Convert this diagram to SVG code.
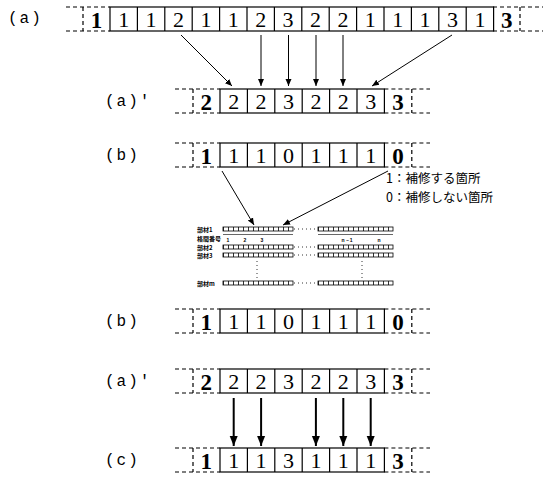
<svg xmlns="http://www.w3.org/2000/svg" width="548" height="485" viewBox="0 0 548 485">
<style>
.bg{fill:#fff}
.cell{fill:none;stroke:#000;stroke-width:1.2}
.dash{fill:none;stroke:#000;stroke-width:1.2;stroke-dasharray:4 3}
.d{font-family:"Liberation Serif",serif;font-size:22px;text-anchor:middle;fill:#000}
.db{font-family:"Liberation Serif",serif;font-size:23px;font-weight:bold;text-anchor:middle;fill:#000}
.lbl{font-family:"Liberation Mono",monospace;font-size:16px;fill:#000;letter-spacing:2px}
.jp{font-family:"Noto Sans CJK JP",sans-serif;font-size:12.5px;fill:#000}
.tl{font-family:"Noto Sans CJK JP",sans-serif;font-size:6px;font-weight:bold;fill:#000}
.tn{font-family:"Liberation Sans",sans-serif;font-size:5px;font-weight:bold;fill:#000;text-anchor:middle}
.ln{stroke:#000;stroke-width:1;fill:none}
.arr{stroke:#000;stroke-width:2;fill:none}
.cb{fill:none;stroke:#000;stroke-width:0.8}
.ct{fill:none;stroke:#000;stroke-width:4;stroke-dasharray:0.8 4.2}
.dot{fill:none;stroke:#000;stroke-width:0.8;stroke-dasharray:1 3}
</style>
<defs>
<marker id="ah" markerWidth="8" markerHeight="8" refX="7" refY="4" orient="auto" markerUnits="userSpaceOnUse">
<path d="M0,1 L7,4 L0,7 Z" fill="#000"/>
</marker>
<marker id="ahb" markerWidth="10" markerHeight="12" refX="10" refY="5" orient="auto" markerUnits="userSpaceOnUse">
<path d="M0,1 L10,5 L0,9 Z" fill="#000"/>
</marker>
</defs>
<rect class="bg" width="548" height="485"/>

<g id="row-a">
<text class="lbl" x="8" y="23">(a)</text>
<path class="dash" d="M66,7 H110 M66,31 H110 M83,7 V31 M493,7 H543 M493,31 H543 M520,7 V31"/>
<rect class="cell" x="110" y="7" width="383.6" height="24"/>
<path class="cell" d="M137.4,7V31 M164.8,7V31 M192.2,7V31 M219.6,7V31 M247,7V31 M274.4,7V31 M301.8,7V31 M329.2,7V31 M356.6,7V31 M384,7V31 M411.4,7V31 M438.8,7V31 M466.2,7V31"/>
<text class="db" x="96.5" y="28">1</text>
<text class="d" x="123.7" y="27">1</text>
<text class="d" x="151.1" y="27">1</text>
<text class="d" x="178.5" y="27">2</text>
<text class="d" x="205.9" y="27">1</text>
<text class="d" x="233.3" y="27">1</text>
<text class="d" x="260.7" y="27">2</text>
<text class="d" x="288.1" y="27">3</text>
<text class="d" x="315.5" y="27">2</text>
<text class="d" x="342.9" y="27">2</text>
<text class="d" x="370.3" y="27">1</text>
<text class="d" x="397.7" y="27">1</text>
<text class="d" x="425.1" y="27">1</text>
<text class="d" x="452.5" y="27">3</text>
<text class="d" x="479.9" y="27">1</text>
<text class="db" x="506.7" y="28">3</text>
</g>

<g id="row-a2">
<text class="lbl" x="105" y="106">(a)'</text>
<path class="dash" d="M175,89 H220 M175,113 H220 M193,89 V113 M384.4,89 H430 M384.4,113 H430 M411.8,89 V113"/>
<rect class="cell" x="220" y="89" width="164.4" height="24"/>
<path class="cell" d="M247.4,89V113 M274.8,89V113 M302.2,89V113 M329.6,89V113 M357,89V113"/>
<text class="db" x="206.3" y="110">2</text>
<text class="d" x="233.7" y="109">2</text>
<text class="d" x="261.1" y="109">2</text>
<text class="d" x="288.5" y="109">3</text>
<text class="d" x="315.9" y="109">2</text>
<text class="d" x="343.3" y="109">2</text>
<text class="d" x="370.7" y="109">3</text>
<text class="db" x="398.1" y="110">3</text>
</g>

<g id="row-b">
<text class="lbl" x="105" y="160">(b)</text>
<path class="dash" d="M175,143 H220 M175,167 H220 M193,143 V167 M384.4,143 H430 M384.4,167 H430 M411.8,143 V167"/>
<rect class="cell" x="220" y="143" width="164.4" height="24"/>
<path class="cell" d="M247.4,143V167 M274.8,143V167 M302.2,143V167 M329.6,143V167 M357,143V167"/>
<text class="db" x="206.3" y="164">1</text>
<text class="d" x="233.7" y="163">1</text>
<text class="d" x="261.1" y="163">1</text>
<text class="d" x="288.5" y="163">0</text>
<text class="d" x="315.9" y="163">1</text>
<text class="d" x="343.3" y="163">1</text>
<text class="d" x="370.7" y="163">1</text>
<text class="db" x="398.1" y="164">0</text>
</g>

<g id="legend">
<text class="jp" x="386" y="183">1：補修する箇所</text>
<text class="jp" x="386" y="202">0：補修しない箇所</text>
</g>

<g id="table">
<text class="tl" x="197" y="232">部材1</text>
<text class="tl" x="197" y="241">格間番号</text>
<text class="tl" x="197" y="250">部材2</text>
<text class="tl" x="197" y="258">部材3</text>
<text class="tl" x="197" y="286">部材m</text>
<g>
<rect class="cb" x="223" y="227" width="70" height="4"/><path class="ct" d="M223,229H293"/>
<rect class="cb" x="318" y="227" width="75" height="4"/><path class="ct" d="M318,229H393"/>
<rect class="cb" x="223" y="245" width="70" height="4"/><path class="ct" d="M223,247H293"/>
<rect class="cb" x="318" y="245" width="75" height="4"/><path class="ct" d="M318,247H393"/>
<rect class="cb" x="223" y="253" width="70" height="4"/><path class="ct" d="M223,255H293"/>
<rect class="cb" x="318" y="253" width="75" height="4"/><path class="ct" d="M318,255H393"/>
<rect class="cb" x="223" y="281" width="70" height="4"/><path class="ct" d="M223,283H293"/>
<rect class="cb" x="318" y="281" width="75" height="4"/><path class="ct" d="M318,283H393"/>
</g>
<path class="dot" d="M294,229H317 M294,247H317 M294,255H317 M294,283H317"/>
<path d="M223,234.5H293 M318,234.5H393" stroke="#000" stroke-width="0.6"/>
<text class="tn" x="228" y="242">1</text>
<text class="tn" x="245" y="242">2</text>
<text class="tn" x="262" y="242">3</text>
<text class="tn" x="347" y="242">n－1</text>
<text class="tn" x="379" y="242">n</text>
<path class="dot" d="M257,261V279 M362,261V279"/>
</g>

<g id="row-b2">
<text class="lbl" x="105" y="326">(b)</text>
<path class="dash" d="M175,309 H220 M175,333 H220 M193,309 V333 M384.4,309 H430 M384.4,333 H430 M411.8,309 V333"/>
<rect class="cell" x="220" y="309" width="164.4" height="24"/>
<path class="cell" d="M247.4,309V333 M274.8,309V333 M302.2,309V333 M329.6,309V333 M357,309V333"/>
<text class="db" x="206.3" y="330">1</text>
<text class="d" x="233.7" y="329">1</text>
<text class="d" x="261.1" y="329">1</text>
<text class="d" x="288.5" y="329">0</text>
<text class="d" x="315.9" y="329">1</text>
<text class="d" x="343.3" y="329">1</text>
<text class="d" x="370.7" y="329">1</text>
<text class="db" x="398.1" y="330">0</text>
</g>

<g id="row-a3">
<text class="lbl" x="105" y="386">(a)'</text>
<path class="dash" d="M175,369 H220 M175,393 H220 M193,369 V393 M384.4,369 H430 M384.4,393 H430 M411.8,369 V393"/>
<rect class="cell" x="220" y="369" width="164.4" height="24"/>
<path class="cell" d="M247.4,369V393 M274.8,369V393 M302.2,369V393 M329.6,369V393 M357,369V393"/>
<text class="db" x="206.3" y="390">2</text>
<text class="d" x="233.7" y="389">2</text>
<text class="d" x="261.1" y="389">2</text>
<text class="d" x="288.5" y="389">3</text>
<text class="d" x="315.9" y="389">2</text>
<text class="d" x="343.3" y="389">2</text>
<text class="d" x="370.7" y="389">3</text>
<text class="db" x="398.1" y="390">3</text>
</g>

<g id="row-c">
<text class="lbl" x="105" y="465">(c)</text>
<path class="dash" d="M175,448 H220 M175,472 H220 M193,448 V472 M384.4,448 H430 M384.4,472 H430 M411.8,448 V472"/>
<rect class="cell" x="220" y="448" width="164.4" height="24"/>
<path class="cell" d="M247.4,448V472 M274.8,448V472 M302.2,448V472 M329.6,448V472 M357,448V472"/>
<text class="db" x="206.3" y="469">1</text>
<text class="d" x="233.7" y="468">1</text>
<text class="d" x="261.1" y="468">1</text>
<text class="d" x="288.5" y="468">3</text>
<text class="d" x="315.9" y="468">1</text>
<text class="d" x="343.3" y="468">1</text>
<text class="d" x="370.7" y="468">1</text>
<text class="db" x="398.1" y="469">3</text>
</g>

<g id="connectors">
<path class="ln" marker-end="url(#ah)" d="M181,35 L232,86"/>
<path class="ln" marker-end="url(#ah)" d="M261,35 V86"/>
<path class="ln" marker-end="url(#ah)" d="M288.5,35 V86"/>
<path class="ln" marker-end="url(#ah)" d="M316,35 V86"/>
<path class="ln" marker-end="url(#ah)" d="M343,35 V86"/>
<path class="ln" marker-end="url(#ah)" d="M452,35 L372,86"/>
<path class="ln" marker-end="url(#ah)" d="M222,171 L254,225"/>
<path class="ln" marker-end="url(#ah)" d="M388,171 L283,225"/>
<path class="arr" marker-end="url(#ahb)" d="M233.7,398 V446"/>
<path class="arr" marker-end="url(#ahb)" d="M261.1,398 V446"/>
<path class="arr" marker-end="url(#ahb)" d="M315.9,398 V446"/>
<path class="arr" marker-end="url(#ahb)" d="M343.3,398 V446"/>
<path class="arr" marker-end="url(#ahb)" d="M370.7,398 V446"/>
</g>
</svg>
